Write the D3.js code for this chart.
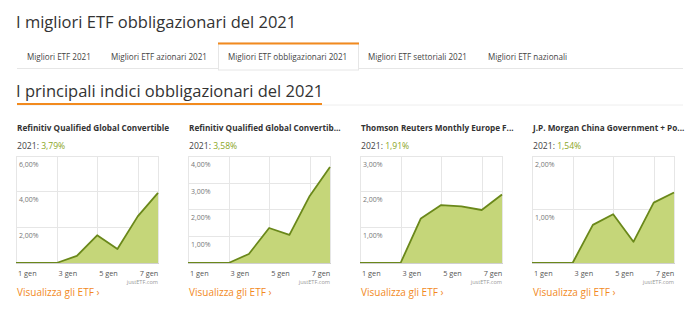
<!DOCTYPE html>
<html>
<head>
<meta charset="utf-8">
<script src="https://cdn.jsdelivr.net/npm/d3@7"></script>
<style>
  body { margin: 0; background: #fff; }
  svg { display: block; font-family: "Open Sans", sans-serif; }
</style>
</head>
<body>
<div id="chart"></div>
<script>
// Data
const pageTitle = 'I migliori ETF obbligazionari del 2021';
const sectionTitle = 'I principali indici obbligazionari del 2021';
const tabs = ['Migliori ETF 2021', 'Migliori ETF azionari 2021', 'Migliori ETF obbligazionari 2021', 'Migliori ETF settoriali 2021', 'Migliori ETF nazionali'];
const activeTab = 2;

const indexNames = [
  'Refinitiv Qualified Global Convertible',
  'Refinitiv Qualified Global Convertible Hedged',
  'Thomson Reuters Monthly Europe Focus',
  'J.P. Morgan China Government + Policy Bank'
];
const ytdLabels = ['3,79%', '3,58%', '1,91%', '1,54%'];

const days = [1, 2, 3, 4, 5, 6, 7, 8];
const dayTicks = [1, 3, 5, 7];
const seriesA = [0, 0, 0, 0.40, 1.57, 0.79, 2.64, 3.97];
const seriesB = [0, 0, 0, 0.34, 1.32, 1.06, 2.53, 3.62];
const seriesC = [0, 0, 0, 1.26, 1.64, 1.60, 1.50, 1.94];
const seriesD = [0, 0, 0, 0.72, 0.92, 0.40, 1.14, 1.33];
const allSeries = [seriesA, seriesB, seriesC, seriesD];

const yTicksA = [2, 4, 6];
const yTicksB = [1, 2, 3, 4];
const yTicksC = [1, 2, 3];
const yTicksD = [1, 2];
const allTicks = [yTicksA, yTicksB, yTicksC, yTicksD];

const W = 700, H = 315;
const orange = '#f28a1e';
const green = '#8aa61e';

const svg = d3.select('#chart').append('svg')
  .attr('width', W).attr('height', H);

// Page title
svg.append('text')
  .attr('x', 16).attr('y', 28)
  .attr('font-size', 16.5).attr('fill', '#333')
  .text(pageTitle);

// Tabs
const tabX = [17, 101, 218, 358, 478, 683];
svg.append('line')
  .attr('x1', 17).attr('x2', 683).attr('y1', 68.5).attr('y2', 68.5)
  .attr('stroke', '#e6e6e6');
const at = svg.append('g');
at.append('rect')
  .attr('x', tabX[activeTab] + 0.5).attr('y', 43)
  .attr('width', tabX[activeTab + 1] - tabX[activeTab]).attr('height', 27)
  .attr('fill', '#fff').attr('stroke', '#e6e6e6');
at.append('line')
  .attr('x1', tabX[activeTab]).attr('x2', tabX[activeTab + 1] + 1)
  .attr('y1', 43.5).attr('y2', 43.5)
  .attr('stroke', orange).attr('stroke-width', 2);
svg.selectAll('.tab')
  .data(tabs)
  .enter()
  .append('text')
  .attr('class', 'tab')
  .attr('x', (d, i) => tabX[i] + 10)
  .attr('y', 60)
  .attr('font-size', 8.1)
  .attr('fill', '#444')
  .text(d => d);

// Section heading
svg.append('text')
  .attr('x', 16).attr('y', 97)
  .attr('font-size', 16.5).attr('fill', '#333')
  .text(sectionTitle);
svg.append('line')
  .attr('x1', 17).attr('x2', 683).attr('y1', 105).attr('y2', 105)
  .attr('stroke', '#eeeeee');
svg.append('line')
  .attr('x1', 17).attr('x2', 322).attr('y1', 104).attr('y2', 104)
  .attr('stroke', orange).attr('stroke-width', 2);

// Small multiples
const panelW = 142, panelTop = 157, panelBottom = 263;
const panelX = [16, 188, 360, 532];
const fmt = v => d3.format('.2f')(v).replace('.', ',') + '%';

allSeries.forEach((values, k) => {
  const g = svg.append('g').attr('transform', `translate(${panelX[k]},0)`);
  const ticks = allTicks[k];

  const x = d3.scaleLinear()
    .domain([days[0], days[days.length - 1]])
    .range([0, panelW]);
  const y = d3.scaleLinear()
    .domain([0, d3.max(ticks)])
    .range([panelBottom, panelTop]);

  // Title with ellipsis
  const t = g.append('text')
    .attr('x', 1).attr('y', 131)
    .attr('font-size', 8.2).attr('font-weight', 'bold').attr('fill', '#333')
    .text(indexNames[k]);
  let s = indexNames[k];
  while (t.node().getComputedTextLength() > 153 && s.length > 3) {
    s = s.slice(0, -1);
    t.text(s.trimEnd() + '...');
  }

  const p = g.append('text')
    .attr('x', 1).attr('y', 149)
    .attr('font-size', 8.6).attr('fill', '#444');
  p.append('tspan').text('2021: ');
  p.append('tspan').attr('fill', green).text(ytdLabels[k]);

  // Frame
  g.append('rect')
    .attr('x', 0.5).attr('y', panelTop - 0.5)
    .attr('width', panelW).attr('height', panelBottom - panelTop)
    .attr('fill', 'none').attr('stroke', '#e6e6e6');

  // Grid
  g.selectAll('.vg')
    .data(dayTicks.slice(1))
    .enter().append('line')
    .attr('x1', d => Math.round(x(d)) + 0.5).attr('x2', d => Math.round(x(d)) + 0.5)
    .attr('y1', panelTop).attr('y2', panelBottom)
    .attr('stroke', '#e6e6e6');
  g.selectAll('.hg')
    .data(ticks)
    .enter().append('line')
    .attr('x1', 0).attr('x2', panelW)
    .attr('y1', d => Math.round(y(d)) - 0.5).attr('y2', d => Math.round(y(d)) - 0.5)
    .attr('stroke', '#e6e6e6');
  g.selectAll('.yl')
    .data(ticks)
    .enter().append('text')
    .attr('x', 3).attr('y', d => y(d) + 10)
    .attr('font-size', 7).attr('fill', '#777')
    .text(d => fmt(d));

  // Area + line
  const area = d3.area()
    .x((d, i) => x(days[i]))
    .y0(y(0))
    .y1(d => y(d));
  const line = d3.line()
    .x((d, i) => x(days[i]))
    .y(d => y(d));
  g.append('path')
    .datum(values)
    .attr('d', area)
    .attr('fill', '#c5d679');
  g.append('path')
    .datum(values)
    .attr('d', line)
    .attr('fill', 'none')
    .attr('stroke', '#6a881a')
    .attr('stroke-width', 1.8)
    .attr('stroke-linejoin', 'round');

  // X axis
  g.append('line')
    .attr('x1', 0).attr('x2', panelW + 1)
    .attr('y1', panelBottom + 0.5).attr('y2', panelBottom + 0.5)
    .attr('stroke', '#d0d0d0');
  g.selectAll('.xl')
    .data(dayTicks)
    .enter().append('text')
    .attr('x', d => x(d) + 2).attr('y', 276)
    .attr('font-size', 7.3).attr('fill', '#555')
    .text(d => d + ' gen');

  g.append('text')
    .attr('x', panelW).attr('y', 283.5)
    .attr('text-anchor', 'end')
    .attr('font-size', 5.6).attr('fill', '#999')
    .text('justETF.com');

  g.append('text')
    .attr('x', 1).attr('y', 296)
    .attr('font-size', 10).attr('fill', orange)
    .text('Visualizza gli ETF \u203A');
});
</script>
</body>
</html>
